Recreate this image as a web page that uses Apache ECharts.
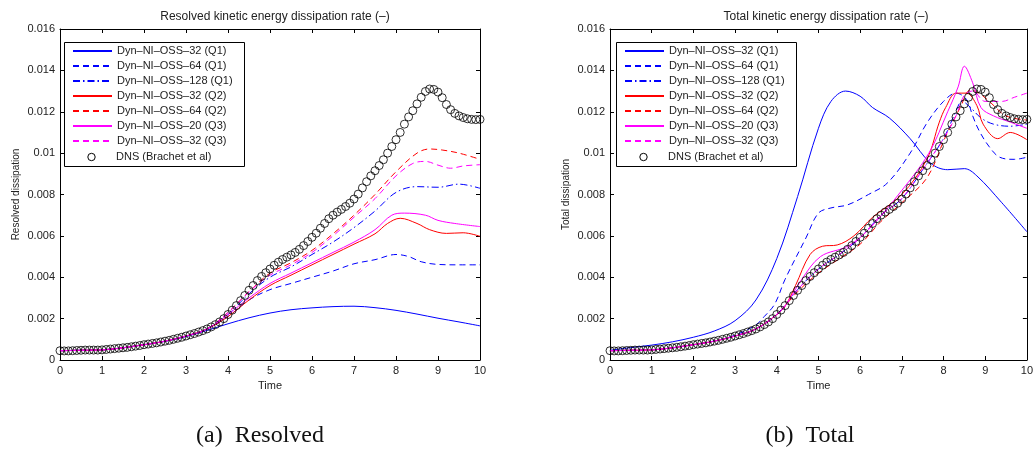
<!DOCTYPE html>
<html><head><meta charset="utf-8">
<script src="https://cdn.jsdelivr.net/npm/echarts@6/dist/echarts.min.js"></script>
<style>html,body{margin:0;padding:0;background:#fff}#c{width:1036px;height:453px}</style>
</head><body><div id="c"></div>
<script>
// ---------- DATA ----------
const xTicks = [0,1,2,3,4,5,6,7,8,9,10];
const yTicks = [0,0.002,0.004,0.006,0.008,0.01,0.012,0.014,0.016];
const seriesNames = ['Dyn–NI–OSS–32 (Q1)','Dyn–NI–OSS–64 (Q1)','Dyn–NI–OSS–128 (Q1)','Dyn–NI–OSS–32 (Q2)','Dyn–NI–OSS–64 (Q2)','Dyn–NI–OSS–20 (Q3)','Dyn–NI–OSS–32 (Q3)','DNS (Brachet et al)'];

// DNS (Brachet et al)
const dnsTime = [0,0.1,0.2,0.3,0.4,0.5,0.6,0.7,0.8,0.9,1,1.1,1.2,1.3,1.4,1.5,1.6,1.7,1.8,1.9,2,2.1,2.2,2.3,2.4,2.5,2.6,2.7,2.8,2.9,3,3.1,3.2,3.3,3.4,3.5,3.6,3.7,3.8,3.9,4,4.1,4.2,4.3,4.4,4.5,4.6,4.7,4.8,4.9,5,5.1,5.2,5.3,5.4,5.5,5.6,5.7,5.8,5.9,6,6.1,6.2,6.3,6.4,6.5,6.6,6.7,6.8,6.9,7,7.1,7.2,7.3,7.4,7.5,7.6,7.7,7.8,7.9,8,8.1,8.2,8.3,8.4,8.5,8.6,8.7,8.8,8.9,9,9.1,9.2,9.3,9.4,9.5,9.6,9.7,9.8,9.9,10];
const dnsVal = [0.00045,0.00044,0.00044,0.00045,0.00046,0.00047,0.00048,0.00048,0.00048,0.00048,0.00049,0.00051,0.00053,0.00055,0.00057,0.00059,0.00061,0.00064,0.00067,0.0007,0.00074,0.00077,0.0008,0.00083,0.00087,0.00091,0.00095,0.001,0.00105,0.0011,0.00116,0.00122,0.00128,0.00135,0.00142,0.0015,0.0016,0.00171,0.00184,0.002,0.0022,0.00241,0.00263,0.00287,0.00312,0.00337,0.0036,0.00384,0.00404,0.00422,0.0044,0.00458,0.00473,0.00486,0.00497,0.00508,0.0052,0.00535,0.00553,0.00573,0.00593,0.00613,0.00637,0.0066,0.00683,0.007,0.00715,0.00728,0.00742,0.00758,0.00778,0.00802,0.00832,0.00862,0.0089,0.00915,0.0094,0.00968,0.01,0.01032,0.01065,0.011,0.0114,0.01175,0.01205,0.01238,0.0127,0.01298,0.0131,0.01308,0.01295,0.01268,0.01235,0.0121,0.01192,0.0118,0.01172,0.01166,0.01163,0.01162,0.01163];

// Resolved dissipation (left panel)
const resQ1n32T = [0,0.5,1,1.5,2,2.5,3,3.5,4,4.5,5,5.5,6,6.5,7,7.5,8,8.5,9,9.5,10];
const resQ1n32V = [0.00045,0.00047,0.00049,0.00059,0.00074,0.0009,0.00113,0.00143,0.00175,0.00204,0.00227,0.00243,0.00252,0.00258,0.0026,0.00253,0.0024,0.00222,0.00202,0.00184,0.00165];
const resQ1n64T = [0,0.5,1,1.5,2,2.5,3,3.5,4,4.5,5,5.5,6,6.5,7,7.5,8,8.3,8.6,9,9.5,10];
const resQ1n64V = [0.00045,0.00047,0.00049,0.00059,0.00074,0.00091,0.00116,0.0015,0.0021,0.0029,0.0034,0.0037,0.004,0.0043,0.00465,0.00485,0.0051,0.005,0.00475,0.00462,0.0046,0.0046];
const resQ1n128T = [0,0.5,1,1.5,2,2.5,3,3.5,4,4.5,5,5.5,6,6.5,7,7.5,8,8.5,9,9.5,10];
const resQ1n128V = [0.00045,0.00047,0.00049,0.00059,0.00074,0.00091,0.00116,0.0015,0.0022,0.0032,0.004,0.0045,0.0051,0.0057,0.0064,0.0072,0.0081,0.00838,0.00835,0.0085,0.0083];
const resQ2n32T = [0,0.5,1,1.5,2,2.5,3,3.5,4,4.5,5,5.5,6,6.5,7,7.5,7.8,8.1,8.5,8.8,9.2,9.6,10];
const resQ2n32V = [0.00045,0.00047,0.00049,0.00059,0.00074,0.00091,0.00116,0.0015,0.0021,0.0029,0.0036,0.0041,0.0046,0.0051,0.0056,0.0061,0.0066,0.00685,0.0066,0.0063,0.00612,0.00615,0.00598];
const resQ2n64T = [0,0.5,1,1.5,2,2.5,3,3.5,4,4.5,5,5.5,6,6.5,7,7.5,8,8.5,8.8,9.1,9.5,10];
const resQ2n64V = [0.00045,0.00047,0.00049,0.00059,0.00074,0.00091,0.00116,0.0015,0.0023,0.0033,0.0042,0.0047,0.0053,0.0061,0.007,0.008,0.0091,0.01,0.0102,0.01015,0.01,0.0097];
const resQ3n20T = [0,0.5,1,1.5,2,2.5,3,3.5,4,4.5,5,5.5,6,6.5,7,7.5,7.9,8.2,8.7,9,9.4,10];
const resQ3n20V = [0.00045,0.00047,0.00049,0.00059,0.00074,0.00091,0.00116,0.0015,0.0022,0.003,0.0037,0.0042,0.0047,0.0052,0.0057,0.0063,0.007,0.0071,0.007,0.00675,0.0066,0.00645];
const resQ3n32T = [0,0.5,1,1.5,2,2.5,3,3.5,4,4.5,5,5.5,6,6.5,7,7.5,8,8.4,8.7,9,9.3,9.6,10];
const resQ3n32V = [0.00045,0.00047,0.00049,0.00059,0.00074,0.00091,0.00116,0.0015,0.0023,0.0033,0.0041,0.0046,0.0052,0.006,0.0069,0.0078,0.0089,0.0095,0.0096,0.00942,0.00927,0.00938,0.00944];

// Total dissipation (right panel)
const totQ1n32T = [0,0.5,1,1.5,2,2.5,3,3.5,4,4.5,5,5.3,5.65,6,6.3,6.7,7.2,7.7,8.1,8.5,8.8,9.4,10];
const totQ1n32V = [0.00047,0.0006,0.00072,0.00088,0.0011,0.0014,0.0019,0.0029,0.0049,0.0079,0.0112,0.0125,0.013,0.01275,0.0122,0.0117,0.0107,0.0095,0.0092,0.00925,0.0089,0.0076,0.0062];
const totQ1n64T = [0,0.5,1,1.5,2,2.5,3,3.5,3.7,3.95,4.2,4.7,5,5.3,5.7,6.2,6.65,7.2,7.6,8,8.3,8.55,8.7,8.85,9.1,9.35,9.7,10];
const totQ1n64V = [0.00045,0.00047,0.00049,0.00059,0.00074,0.00092,0.0012,0.0017,0.0021,0.0027,0.0039,0.0059,0.0071,0.00735,0.0075,0.008,0.00855,0.01,0.01145,0.0125,0.0129,0.0126,0.0118,0.0111,0.0103,0.0098,0.0097,0.0098];
const totQ1n128T = [0,0.5,1,1.5,2,2.5,3,3.5,4,4.5,5,5.5,6,6.5,7,7.5,8,8.25,8.45,8.65,8.9,9.2,9.6,10];
const totQ1n128V = [0.00045,0.00047,0.00049,0.00059,0.00074,0.00091,0.00116,0.0015,0.0022,0.0034,0.0044,0.0051,0.0059,0.007,0.0078,0.0092,0.0107,0.0118,0.0125,0.0122,0.0117,0.0114,0.0113,0.0114];
const totQ2n32T = [0,0.5,1,1.5,2,2.5,3,3.5,4,4.2,4.45,4.8,5.1,5.45,5.85,6.3,7,7.6,7.9,8.05,8.3,8.55,8.8,8.95,9.3,9.6,10];
const totQ2n32V = [0.00045,0.00047,0.00049,0.00059,0.00074,0.00091,0.00116,0.0015,0.0022,0.0026,0.0036,0.0051,0.0055,0.00556,0.006,0.0069,0.008,0.0097,0.0115,0.0122,0.0129,0.0129,0.0123,0.0114,0.0107,0.011,0.01065];
const totQ2n64T = [0,0.5,1,1.5,2,2.5,3,3.5,4,4.5,5,5.5,6,6.5,7,7.6,8.05,8.4,8.65,8.85,9.1,9.5,10];
const totQ2n64V = [0.00045,0.00047,0.00049,0.00059,0.00074,0.00091,0.00116,0.0015,0.0022,0.0033,0.0042,0.0049,0.0056,0.0067,0.0076,0.0088,0.0108,0.0122,0.01306,0.0129,0.0125,0.0118,0.0116];
const totQ3n20T = [0,0.5,1,1.5,2,2.5,3,3.5,4,4.2,4.6,5.05,5.7,6.2,7,7.65,8.1,8.35,8.5,8.7,8.9,9.2,9.6,10];
const totQ3n20V = [0.00045,0.00047,0.00049,0.00059,0.00074,0.00091,0.00116,0.0015,0.0022,0.0026,0.0039,0.005,0.0055,0.0063,0.0082,0.01,0.012,0.0132,0.0142,0.0134,0.0122,0.0118,0.0115,0.0112];
const totQ3n32T = [0,0.5,1,1.5,2,2.5,3,3.5,4,4.5,5,5.5,6,6.5,7,7.5,8,8.3,8.5,8.7,9,9.4,9.7,10];
const totQ3n32V = [0.00045,0.00047,0.00049,0.00059,0.00074,0.00091,0.00116,0.0015,0.0022,0.0034,0.0044,0.0051,0.0059,0.007,0.0078,0.0092,0.0107,0.0118,0.0128,0.013,0.0125,0.0125,0.0127,0.0129];

// ---------- CHART ----------
const FONT = '"Liberation Sans", Arial, Helvetica, sans-serif';
const BLUE = '#0000ff', RED = '#ff0000', MAG = '#ff00ff';
const DASH = [6,4], DASHDOT = [7,3,1.5,3];
const pairs = (t, v) => t.map((x, i) => [x, v[i]]);
const fmtY = v => v === 0 ? '0' : String(Number(v.toFixed(3)));

function xAx(gi, top) {
  return {
    type: 'value', gridIndex: gi, min: 0, max: 10, interval: 1,
    position: top ? 'top' : 'bottom',
    name: top ? '' : 'Time', nameLocation: 'middle', nameGap: 18,
    nameTextStyle: {fontFamily: FONT, fontSize: 11, color: '#222'},
    axisLine: {show: true, onZero: false, lineStyle: {color: '#000', width: 1}},
    axisTick: {show: true, inside: true, length: 4, lineStyle: {color: '#000'}},
    axisLabel: {show: !top, fontFamily: FONT, fontSize: 11, color: '#222', margin: 5},
    splitLine: {show: false}
  };
}
function yAx(gi, right, name) {
  return {
    type: 'value', gridIndex: gi, min: 0, max: 0.016, interval: 0.002,
    position: right ? 'right' : 'left',
    name: right ? '' : name, nameLocation: 'middle', nameGap: 39,
    nameTextStyle: {fontFamily: FONT, fontSize: 10, color: '#222'},
    axisLine: {show: true, onZero: false, lineStyle: {color: '#000', width: 1}},
    axisTick: {show: true, inside: true, length: 4, lineStyle: {color: '#000'}},
    axisLabel: {show: !right, fontFamily: FONT, fontSize: 11, color: '#222', margin: 5, formatter: fmtY},
    splitLine: {show: false}
  };
}
function line(name, t, v, color, type, gi) {
  return {
    name, type: 'line', xAxisIndex: gi * 2, yAxisIndex: gi * 2,
    data: pairs(t, v), smooth: 0.35, symbol: 'none', silent: true,
    lineStyle: {color, width: 1, type}, itemStyle: {color}, z: 2
  };
}
function dns(gi) {
  return {
    name: seriesNames[7], type: 'scatter', xAxisIndex: gi * 2, yAxisIndex: gi * 2,
    data: pairs(dnsTime, dnsVal), symbol: 'circle', symbolSize: 8, silent: true,
    itemStyle: {color: 'rgba(255,255,255,0)', borderColor: '#000', borderWidth: 1}, z: 3
  };
}
const lineLegendData = seriesNames.slice(0, 7).map(n => ({name: n, itemStyle: {opacity: 0}}));
function lineLegend(left) {
  return {
    data: lineLegendData, left, top: 42, orient: 'vertical', selectedMode: false,
    itemWidth: 39, itemHeight: 14, itemGap: 1, padding: [2, 0, 0, 8], z: 6,
    textStyle: {fontFamily: FONT, fontSize: 11, color: '#222', lineHeight: 14}
  };
}
function frame(x) {
  return [
    {type: 'rect', z: 5, shape: {x: x + 0.5, y: 42.5, width: 180, height: 124},
      style: {fill: '#fff', stroke: '#000', lineWidth: 1}},
    {type: 'circle', z: 7, shape: {cx: x + 27.5, cy: 157, r: 3.7},
      style: {fill: 'none', stroke: '#000', lineWidth: 1}},
    {type: 'text', z: 7, x: x + 52, y: 157,
      style: {text: seriesNames[7], verticalAlign: 'middle', align: 'left',
        font: '11px ' + FONT, fill: '#222'}}
  ];
}

const option = {
  animation: false,
  backgroundColor: '#fff',
  title: [
    {text: 'Resolved kinetic energy dissipation rate (–)', left: 270, top: 6, textAlign: 'center',
     textStyle: {fontFamily: FONT, fontSize: 12, fontWeight: 'normal', color: '#222'}},
    {text: 'Total kinetic energy dissipation rate (–)', left: 821, top: 6, textAlign: 'center',
     textStyle: {fontFamily: FONT, fontSize: 12, fontWeight: 'normal', color: '#222'}}
  ],
  grid: [
    {left: 60, top: 29, width: 420, height: 331},
    {left: 610, top: 29, width: 422, height: 331}
  ],
  xAxis: [xAx(0, false), xAx(0, true), xAx(1, false), xAx(1, true)],
  yAxis: [yAx(0, false, 'Resolved dissipation'), yAx(0, true), yAx(1, false, 'Total dissipation'), yAx(1, true)],
  legend: [lineLegend(64), lineLegend(616)],
  series: [
    line(seriesNames[0], resQ1n32T, resQ1n32V, BLUE, 'solid', 0),
    line(seriesNames[1], resQ1n64T, resQ1n64V, BLUE, DASH, 0),
    line(seriesNames[2], resQ1n128T, resQ1n128V, BLUE, DASHDOT, 0),
    line(seriesNames[3], resQ2n32T, resQ2n32V, RED, 'solid', 0),
    line(seriesNames[4], resQ2n64T, resQ2n64V, RED, DASH, 0),
    line(seriesNames[5], resQ3n20T, resQ3n20V, MAG, 'solid', 0),
    line(seriesNames[6], resQ3n32T, resQ3n32V, MAG, DASH, 0),
    dns(0),
    line(seriesNames[0], totQ1n32T, totQ1n32V, BLUE, 'solid', 1),
    line(seriesNames[1], totQ1n64T, totQ1n64V, BLUE, DASH, 1),
    line(seriesNames[2], totQ1n128T, totQ1n128V, BLUE, DASHDOT, 1),
    line(seriesNames[3], totQ2n32T, totQ2n32V, RED, 'solid', 1),
    line(seriesNames[4], totQ2n64T, totQ2n64V, RED, DASH, 1),
    line(seriesNames[5], totQ3n20T, totQ3n20V, MAG, 'solid', 1),
    line(seriesNames[6], totQ3n32T, totQ3n32V, MAG, DASH, 1),
    dns(1)
  ],
  graphic: [
    ...frame(64), ...frame(616),
    {type: 'text', x: 260, y: 436, style: {text: '(a)  Resolved', align: 'center', verticalAlign: 'middle',
      font: '24px "Liberation Serif", "DejaVu Serif", serif', fill: '#111'}},
    {type: 'text', x: 810, y: 436, style: {text: '(b)  Total', align: 'center', verticalAlign: 'middle',
      font: '24px "Liberation Serif", "DejaVu Serif", serif', fill: '#111'}}
  ]
};
const chart = echarts.init(document.getElementById('c'), null, {renderer: 'canvas'});
chart.setOption(option);
</script>
</body></html>
